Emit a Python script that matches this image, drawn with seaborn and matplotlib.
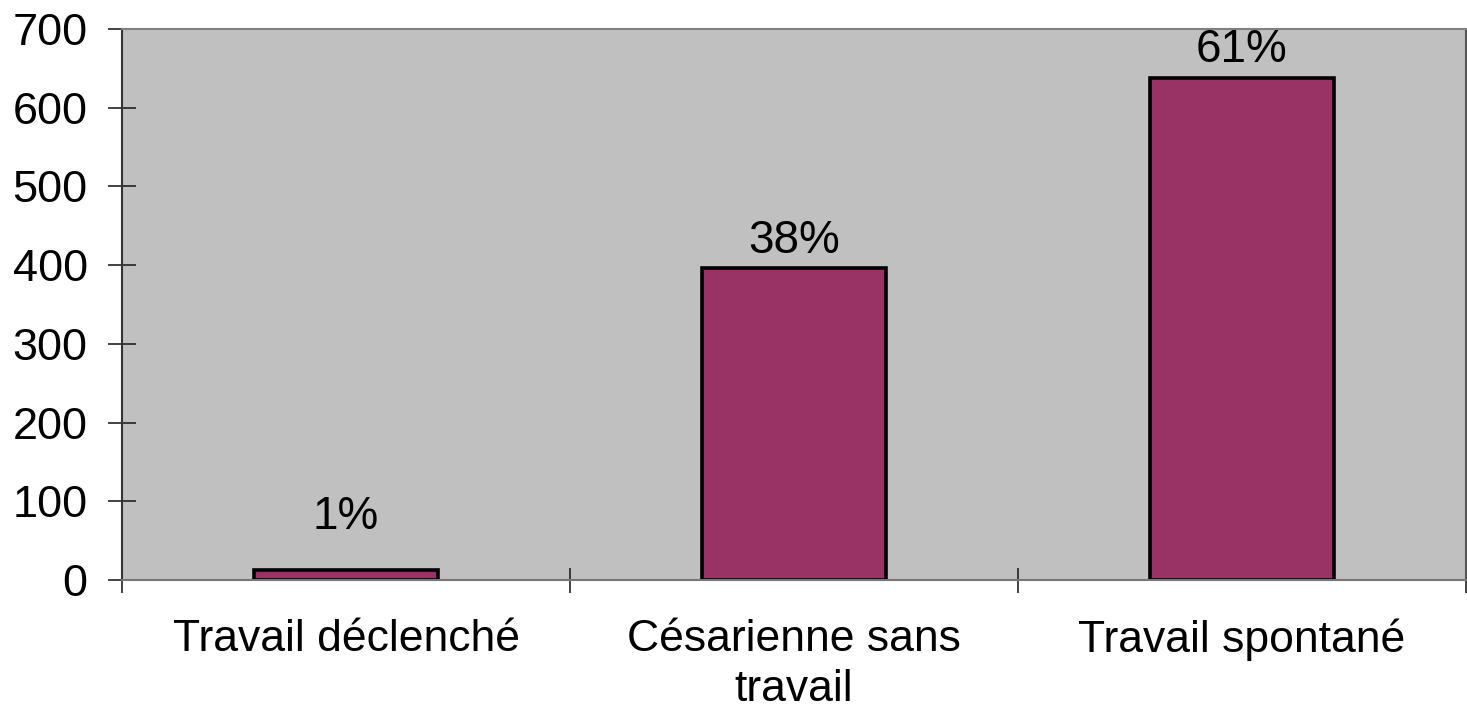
import matplotlib
matplotlib.use('Agg')
import matplotlib.pyplot as plt
import numpy as np
import pandas as pd
import seaborn as sns

# data
categories = ['Travail déclenché', 'Césarienne sans\ntravail', 'Travail spontané']
counts = [13, 396, 638]
pct_labels = ['1%', '38%', '61%']

df = pd.DataFrame({'cat': categories, 'n': counts})

sns.set_style('white')
plt.rcParams['font.family'] = ['Liberation Sans', 'DejaVu Sans']
plt.rcParams['text.color'] = 'black'
plt.rcParams['xtick.color'] = 'black'
plt.rcParams['ytick.color'] = 'black'

fig = plt.figure(figsize=(14.67, 7.15), dpi=100)
ax = fig.add_axes([0.0832, 0.1888, 0.9161, 0.7706])
ax.set_facecolor('#C0C0C0')

sns.barplot(data=df, x='cat', y='n', color='#993366', width=0.41,
            edgecolor='black', linewidth=2.6, saturation=1, ax=ax)

for i, (v, lab) in enumerate(zip(counts, pct_labels)):
    ax.text(i, max(v, 45) + 35, lab, ha='center', va='center', fontsize=33)

ax.set_xlim(-0.5, 2.5)
ax.set_ylim(0, 700)
ax.set_yticks(np.arange(0, 701, 100))
ax.set_xlabel('')
ax.set_ylabel('')

# y ticks crossing the axis, x ticks at category boundaries
ax.tick_params(axis='y', direction='inout', length=19.5, width=1.2, color='#222222',
               labelsize=32.5, pad=15, left=True)
ax.tick_params(axis='x', which='major', length=0, labelsize=32, pad=28)
for t in ax.get_xticklabels():
    t.set_linespacing(1.3)
ax.set_xticks([-0.5, 0.5, 1.5, 2.5], minor=True)
ax.tick_params(axis='x', which='minor', direction='inout', length=18, width=1.2,
               color='#222222', bottom=True)

ax.spines['left'].set_color('#333333')
ax.spines['left'].set_linewidth(1.5)
ax.spines['bottom'].set_color('#777777')
ax.spines['bottom'].set_linewidth(1.5)
ax.spines['top'].set_color('#808080')
ax.spines['top'].set_linewidth(1.5)
ax.spines['right'].set_color('#555555')
ax.spines['right'].set_linewidth(1.5)

fig.savefig('out.png', dpi=100)
